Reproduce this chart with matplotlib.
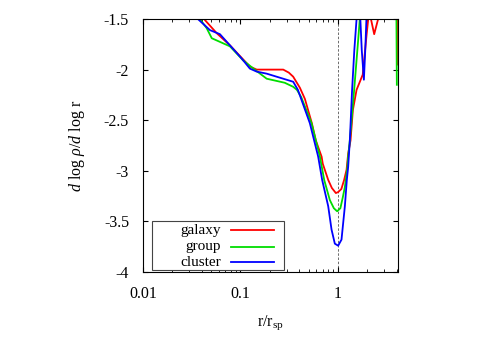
import matplotlib
matplotlib.use("Agg")
import matplotlib.pyplot as plt
from matplotlib.ticker import FixedLocator, LogLocator, NullFormatter
from matplotlib.patches import Rectangle

plt.rcParams['font.family'] = ['Liberation Serif', 'DejaVu Serif']
plt.rcParams['mathtext.fontset'] = 'custom'
plt.rcParams['mathtext.rm'] = 'Liberation Serif'
plt.rcParams['mathtext.it'] = 'Liberation Serif:italic'

# logarithmic slope of the density profile
x_galaxy = [0.0412, 0.0432, 0.0571, 0.078, 0.125, 0.147, 0.201, 0.275, 0.314, 0.348,
            0.408, 0.459, 0.541, 0.594, 0.681, 0.70, 0.796, 0.868, 0.954, 1.007,
            1.086, 1.16, 1.228, 1.276, 1.349, 1.426, 1.556, 1.80, 1.97, 2.05,
            2.13, 2.36, 2.59, 2.76, 4.07, 4.10]
y_galaxy = [-1.43, -1.51, -1.64, -1.76, -1.97, -2.00, -2.00, -2.00, -2.03, -2.07,
            -2.18, -2.29, -2.53, -2.70, -2.86, -2.93, -3.09, -3.17, -3.22, -3.21,
            -3.18, -3.09, -2.99, -2.83, -2.70, -2.40, -2.20, -2.05, -1.66, -1.50,
            -1.45, -1.65, -1.50, -1.43, -1.30, -1.95]

x_group = [0.0366, 0.0384, 0.045, 0.0508, 0.078, 0.107, 0.136, 0.186, 0.285, 0.348,
           0.38, 0.42, 0.537, 0.654, 0.724, 0.828, 0.91, 0.983, 1.061, 1.125,
           1.18, 1.246, 1.276, 1.327, 1.47, 1.60, 1.68, 1.72, 3.98, 4.03]
y_group = [-1.43, -1.50, -1.59, -1.69, -1.77, -1.91, -1.99, -2.09, -2.13, -2.17,
           -2.20, -2.27, -2.53, -2.86, -3.09, -3.29, -3.37, -3.40, -3.37, -3.26,
           -3.16, -2.99, -2.86, -2.70, -2.20, -1.76, -1.50, -1.43, -1.30, -2.15]

x_cluster = [0.035, 0.0366, 0.0487, 0.0616, 0.078, 0.103, 0.125, 0.147, 0.186, 0.235,
             0.348, 0.389, 0.516, 0.628, 0.69, 0.796, 0.861, 0.931, 1.007, 1.09,
             1.18, 1.236, 1.276, 1.327, 1.40, 1.475, 1.556, 1.60, 1.68, 1.76,
             1.85, 1.91, 1.98, 2.13]
y_cluster = [-1.43, -1.50, -1.61, -1.65, -1.76, -1.89, -1.99, -2.02, -2.04, -2.07,
             -2.12, -2.20, -2.53, -2.86, -3.09, -3.35, -3.58, -3.72, -3.74, -3.68,
             -3.35, -3.09, -2.96, -2.70, -2.20, -1.81, -1.50, -1.39, -1.39, -1.81,
             -2.10, -1.81, -1.41, -1.30]

labels = ['galaxy', 'group', 'cluster']
colors = ['#ff0000', '#00dd00', '#0000ff']

fig = plt.figure(figsize=(4.9, 3.43), dpi=100)
ax = fig.add_axes([0.2918, 0.207, 0.5204, 0.7376])

ax.axvline(1.0, color='#555555', lw=0.6, ls=(0, (3, 2)), zorder=1)
series = [(x_galaxy, y_galaxy), (x_group, y_group), (x_cluster, y_cluster)]
for (xs, ys), c in zip(series, colors):
    ax.plot(xs, ys, color=c, lw=1.3)

ax.set_xscale('log')
ax.set_xlim(0.01, 4.14)
ax.set_ylim(-4, -1.5)
ax.xaxis.set_major_locator(FixedLocator([0.01, 0.1, 1]))
ax.xaxis.set_minor_locator(LogLocator(base=10, subs=range(2, 10)))
ax.xaxis.set_minor_formatter(NullFormatter())
ax.set_xticklabels(['0.01', '0.1', '1'])
ax.set_yticks([-4, -3.5, -3, -2.5, -2, -1.5])
ax.set_yticklabels(['-4', '-3.5', '-3', '-2.5', '-2', '-1.5'])
ax.tick_params(which='both', direction='in', top=True, right=True, labelsize=11.5)
ax.tick_params(axis='x', pad=10)
ax.tick_params(axis='y', pad=10)
ax.tick_params(which='major', length=3.5)
ax.tick_params(which='minor', length=2)

ax.set_xlabel(r'r/r$_{\mathrm{sp}}$', fontsize=11.5, labelpad=8)
ax.set_ylabel(r'$d$ log $\rho$/$d$ log r', fontsize=11.5, labelpad=12)

# legend box drawn by hand: text on the left, line sample on the right
ax.add_patch(Rectangle((0.035, 0.008), 0.518, 0.194, transform=ax.transAxes,
                       fill=True, facecolor='white', edgecolor='#444444', lw=0.8, zorder=4))
rows = [0.166, 0.100, 0.038]
for lab, c, ry in zip(labels, colors, rows):
    ax.text(0.305, ry, lab, transform=ax.transAxes, ha='right', va='center',
            fontsize=11, zorder=5)
    ax.plot([0.345, 0.515], [ry, ry], transform=ax.transAxes, color=c, lw=1.3, zorder=5)

plt.savefig('out.png', dpi=100)
